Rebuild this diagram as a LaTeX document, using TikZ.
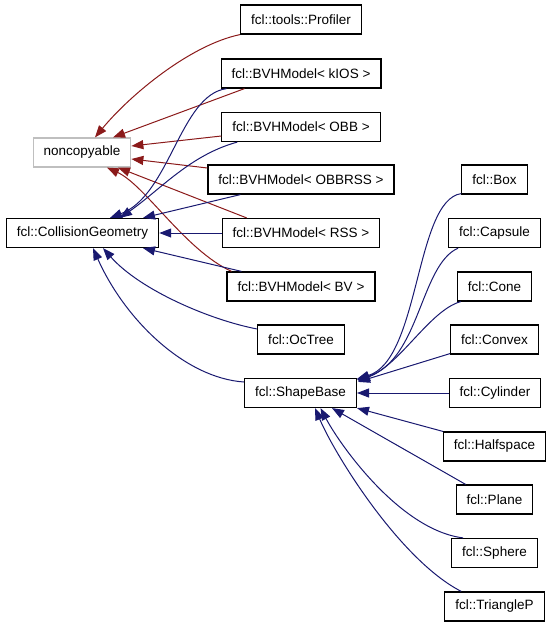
\documentclass[tikz,border=0pt]{standalone}
\usepackage{fontspec}
\setmainfont{Liberation Sans}
\usetikzlibrary{arrows.meta}
\definecolor{redline}{HTML}{8B1A1A}
\definecolor{blueline}{HTML}{191970}

\begin{document}
\begin{tikzpicture}[x=1pt,y=-1pt,
  cls/.style={draw=black,line width=1.2pt,fill=white,inner xsep=10.5pt,inner ysep=0pt,
    minimum height=29pt,font=\fontsize{13.5}{16}\selectfont},
  redge/.style={draw=redline,line width=1pt,{Triangle[length=12pt,width=9pt]}-},
  bedge/.style={draw=blueline,line width=1pt,{Triangle[length=12pt,width=9pt]}-}]
\useasboundingbox (0,0) rectangle (552,627);
% classes
\node[cls,draw=black!25] (nc) at (82,152.5) {noncopyable};
\node[cls] (cg) at (82.5,233) {fcl::CollisionGeometry};
\node[cls] (prof) at (301,19.5) {fcl::tools::Profiler};
\node[cls] (kios) at (301,73.5) {fcl::BVHModel< kIOS >};
\node[cls] (obb) at (301,127) {fcl::BVHModel< OBB >};
\node[cls] (obbrss) at (301,179.5) {fcl::BVHModel< OBBRSS >};
\node[cls] (rss) at (301,233) {fcl::BVHModel< RSS >};
\node[cls] (bv) at (301,286.5) {fcl::BVHModel< BV >};
\node[cls] (octree) at (301,339.5) {fcl::OcTree};
\node[cls] (shape) at (300.5,393) {fcl::ShapeBase};
\node[cls] (box) at (494.5,179.5) {fcl::Box};
\node[cls] (capsule) at (494.5,233) {fcl::Capsule};
\node[cls] (cone) at (494.5,286.5) {fcl::Cone};
\node[cls] (convex) at (494.5,339.5) {fcl::Convex};
\node[cls] (cylinder) at (495,393) {fcl::Cylinder};
\node[cls] (halfspace) at (494.5,446.5) {fcl::Halfspace};
\node[cls] (plane) at (494.5,499.5) {fcl::Plane};
\node[cls] (sphere) at (494.5,553) {fcl::Sphere};
\node[cls] (trianglep) at (494.5,606.5) {fcl::TriangleP};
% noncopyable
\draw[redge] ([xshift=13pt]nc.north) .. controls (130,95) and (190,45) .. (prof.south west);
\draw[redge] ([xshift=31pt]nc.north) -- ([xshift=24pt]kios.south west);
\draw[redge] ([yshift=6.5pt]nc.east) -- ([yshift=-9pt]obb.west);
\draw[redge] ([yshift=-6.5pt]nc.east) -- ([yshift=11.5pt]obbrss.west);
\draw[redge] ([xshift=36pt]nc.south) -- ([xshift=25pt]rss.north west);
\draw[redge] ([xshift=25pt]nc.south) .. controls (145,185) and (185,250) .. ([xshift=5pt]bv.north west);
% CollisionGeometry
\draw[bedge] ([xshift=27.5pt]cg.north) .. controls (170,195) and (180,95) .. ([xshift=6pt]kios.south west);
\draw[bedge] ([xshift=37.5pt]cg.north) .. controls (160,190) and (190,155) .. ([xshift=16pt]obb.south west);
\draw[bedge] ([xshift=60.5pt]cg.north) -- ([xshift=33pt]obbrss.south west);
\draw[bedge] (cg.east) -- (rss.west);
\draw[bedge] ([xshift=60.5pt]cg.south) -- ([xshift=15pt]bv.north west);
\draw[bedge] ([xshift=20.5pt]cg.south) .. controls (140,290) and (210,320) .. ([yshift=10.5pt]octree.west);
\draw[bedge] ([xshift=10.5pt]cg.south) .. controls (125,320) and (185,378) .. ([yshift=11pt]shape.west);
% ShapeBase
\draw[bedge] ([yshift=-1pt]shape.north east) .. controls (420,360) and (415,200) .. ([yshift=1pt]box.south west);
\draw[bedge] ([yshift=-2pt]shape.north east) .. controls (420,360) and (420,265) .. ([xshift=10pt]capsule.south west);
\draw[bedge] ([xshift=1pt,yshift=-3pt]shape.north east) .. controls (400,365) and (430,310) .. ([xshift=4pt]cone.south west);
\draw[bedge] ([xshift=1pt,yshift=-4pt]shape.north east) -- ([yshift=1pt]convex.south west);
\draw[bedge] (shape.east) -- (cylinder.west);
\draw[bedge] (shape.south east) -- (halfspace.north west);
\draw[bedge] ([xshift=31.5pt]shape.south) -- ([xshift=10pt]plane.north west);
\draw[bedge] ([xshift=20pt]shape.south) .. controls (340,445) and (400,530) .. ([xshift=12pt]sphere.north west);
\draw[bedge] ([xshift=14.5pt]shape.south) .. controls (335,455) and (400,560) .. ([xshift=17pt]trianglep.north west);
\end{tikzpicture}
\end{document}
